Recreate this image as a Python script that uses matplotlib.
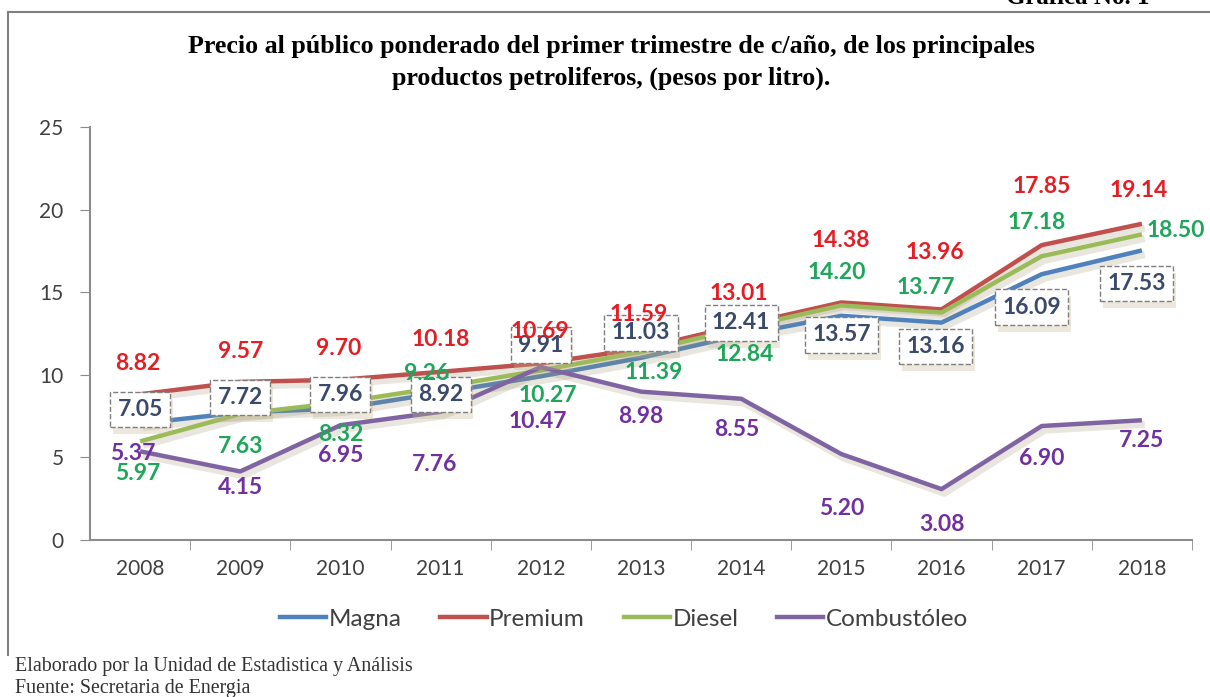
import matplotlib.pyplot as plt
import matplotlib.patheffects as pe
from matplotlib.lines import Line2D

# Data
years = ['2008', '2009', '2010', '2011', '2012', '2013', '2014', '2015', '2016', '2017', '2018']
magna = [7.05, 7.72, 7.96, 8.92, 9.91, 11.03, 12.41, 13.57, 13.16, 16.09, 17.53]
premium = [8.82, 9.57, 9.70, 10.18, 10.69, 11.59, 13.01, 14.38, 13.96, 17.85, 19.14]
diesel = [5.97, 7.63, 8.32, 9.26, 10.27, 11.39, 12.84, 14.20, 13.77, 17.18, 18.50]
combustoleo = [5.37, 4.15, 6.95, 7.76, 10.47, 8.98, 8.55, 5.20, 3.08, 6.90, 7.25]

# label offsets in pixels (dx, dy), dy positive = up
off_magna = [(0, 14), (0, 15), (0, 14), (0, -2), (0, 31), (0, 25), (0, 12), (0, -19), (-6, -24), (-10, -33), (-5, -33)]
off_premium = [(-2, 31), (0, 30), (-2, 31), (0, 32), (-1, 32), (-2, 34), (-2, 32), (-1, 62), (-7, 57), (0, 59), (-3, 33)]
off_diesel = [(-2, -32), (0, -33), (0, -32), (-14, 14), (7, -25), (13, -21), (4, -27), (-5, 33), (-16, 25), (-5, 34), (34, 4)]
off_comb = [(-7, -2), (0, -16), (0, -30), (-6, -53), (-3, -54), (0, -25), (-4, -31), (0, -54), (0, -35), (0, -32), (0, -20)]

fig = plt.figure(figsize=(12.1, 6.97), dpi=100)
W, H = 1210, 697
ax = fig.add_axes([90 / W, 1 - 540 / H, (1192 - 90) / W, (540 - 127) / H])

x = list(range(len(years)))
series = [
    ('Magna', magna, '#4F81BD'),
    ('Premium', premium, '#C0504D'),
    ('Diesel', diesel, '#9BBB59'),
    ('Combustóleo', combustoleo, '#8064A2'),
]
shadow = [pe.SimpleLineShadow(offset=(2, -3), shadow_color='#9a8f6a', alpha=0.22, linewidth=5), pe.Normal()]
for name, vals, col in series:
    ax.plot(x, vals, color=col, lw=3.2, solid_capstyle='butt', path_effects=shadow, zorder=3)

lab_font = dict(family='Lato', fontsize=16.5, fontweight='bold')


def put_labels(vals, offs, color, boxed=False):
    for i, v in enumerate(vals):
        t = ax.annotate(f'{v:.2f}', (i, v), xytext=offs[i], textcoords='offset pixels',
                        ha='center', va='center', color=color, zorder=5, **lab_font)
        if boxed:
            t.set_bbox(dict(boxstyle='square,pad=0.32', fc='white', ec='#7F7F7F', ls='--', lw=1))
            t.get_bbox_patch().set_path_effects([pe.withSimplePatchShadow(offset=(2, -5), shadow_rgbFace='#C2B488', alpha=0.3)])


put_labels(magna, off_magna, '#3A4A6A', boxed=True)
put_labels(premium, off_premium, '#E31E24')
put_labels(diesel, off_diesel, '#1FA65A')
put_labels(combustoleo, off_comb, '#7030A0')

ax.set_xlim(-0.5, len(years) - 0.5)
ax.set_ylim(0, 25)
ax.set_yticks([0, 5, 10, 15, 20, 25])
ax.set_xticks(x)
ax.set_xticklabels(years)
ax.set_xticks([i + 0.5 for i in x], minor=True)
ax.tick_params(axis='x', which='major', length=0, pad=14, labelsize=15, labelcolor='#404040', labelfontfamily='Lato')
ax.tick_params(axis='x', which='minor', length=7, color='#8C8C8C', direction='out')
ax.tick_params(axis='y', length=7, color='#8C8C8C', pad=12, labelsize=15, labelcolor='#404040', labelfontfamily='Lato')
for s in ['top', 'right']:
    ax.spines[s].set_visible(False)
for s in ['left', 'bottom']:
    ax.spines[s].set_color('#8C8C8C')
    ax.spines[s].set_linewidth(1.5)

# title
fig.text(611 / W, 1 - 47 / H, 'Precio al público ponderado del primer trimestre de c/año, de los principales',
         ha='center', va='center', family='Liberation Serif', fontweight='bold', fontsize=18.7)
fig.text(611 / W, 1 - 78 / H, 'productos petroliferos, (pesos por litro).',
         ha='center', va='center', family='Liberation Serif', fontweight='bold', fontsize=18.7)
fig.text(1150 / W, 1 - 4 / H, 'Gráfica No. 1', ha='right', va='baseline',
         family='Liberation Serif', fontweight='bold', fontsize=18)

# frame (top and left edges)
fig.add_artist(Line2D([8 / W, 1], [1 - 12 / H, 1 - 12 / H], color='#808080', lw=1.5))
fig.add_artist(Line2D([8 / W, 8 / W], [1 - 12 / H, 1 - 655 / H], color='#808080', lw=1.5))

# legend
handles = [Line2D([], [], color=c, lw=3.2) for _, _, c in series]
fig.legend(handles, [n for n, _, _ in series], loc='center', bbox_to_anchor=(624 / W, 1 - 619 / H),
           ncol=4, frameon=False, handlelength=1.9, handletextpad=0.1, columnspacing=1.6,
           prop=dict(family='Lato', size=17.5), labelcolor='#404040')

# footer
fig.text(15 / W, 1 - 667 / H, 'Elaborado por la Unidad de Estadistica y Análisis', ha='left', va='center',
         family='Liberation Serif', fontsize=14.4, color='#333333')
fig.text(15 / W, 1 - 688 / H, 'Fuente: Secretaria de Energia', ha='left', va='center',
         family='Liberation Serif', fontsize=14.4, color='#333333')

fig.savefig('out.png', dpi=100)
